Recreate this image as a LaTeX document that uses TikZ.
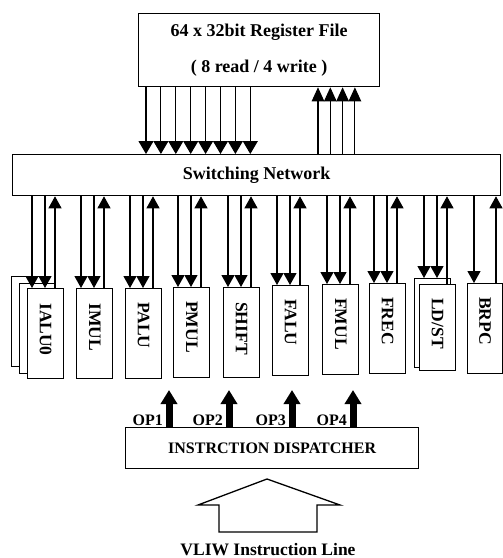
\documentclass[tikz,border=0pt]{standalone}
\usepackage{fontspec}
\setmainfont{Liberation Serif}
\usetikzlibrary{arrows.meta}
\tikzset{
  box/.style={draw,line width=1.3pt,fill=white,inner sep=0pt,align=center,font=\fontsize{18}{20}\selectfont\bfseries},
  unit/.style={box,minimum width=36pt,minimum height=90pt,anchor=north west},
  ulbl/.style={rotate=-90,anchor=west,inner sep=0pt,font=\fontsize{17.5}{17.5}\selectfont\bfseries},
  ar/.style={-{Triangle[length=12pt,width=13pt]},line width=1.1pt},
  rd/.style={-{Triangle[length=13pt,width=15pt]},line width=1.1pt},
  opar/.style={-{Triangle[length=14pt,width=16pt]},line width=7pt},
  oplbl/.style={anchor=south east,inner sep=0pt,font=\fontsize{16}{16}\selectfont\bfseries},
}

\begin{document}
\begin{tikzpicture}[x=1pt,y=-1pt]
  \fill[white] (0,0) rectangle (503,558);
  \useasboundingbox (0,0) rectangle (503,558);

  % register file and switching network
  \node[box, minimum width=241pt, minimum height=73pt, anchor=north west,
        font=\fontsize{18}{36}\selectfont\bfseries] (rf) at (138,13)
    {64 x 32bit Register File\\( 8 read / 4 write )};
  \node[box, minimum width=488pt, minimum height=41pt, anchor=north west] (sw) at (12,154)
    {Switching Network};

  \foreach \i in {0,...,7} {
    \path ([xshift={8pt+14.9pt*\i}]rf.south west) coordinate (r);
    \draw[rd] (r) -- (r |- sw.north);
  }
  \foreach \i in {0,...,3} {
    \path ([xshift={180pt+12.3pt*\i}]rf.south west) coordinate (w);
    \draw[ar, -{Triangle[length=14pt,width=12.5pt]}] (w |- sw.north) -- (w);
  }

  % functional units
  \node[unit] (ialuc) at (11,276) {};
  \node[unit] (ialub) at (19,283) {};
  \node[unit] (ialu) at (27,288) {};
  \node[unit] (imul) at (76,288) {};
  \node[unit] (palu) at (125,288) {};
  \node[unit] (pmul) at (173,287) {};
  \node[unit] (shift) at (223,287) {};
  \node[unit] (falu) at (272,285) {};
  \node[unit] (fmul) at (322,284) {};
  \node[unit] (frec) at (369,283) {};
  \node[unit, minimum height=89pt] (ldstb) at (414,278) {};
  \node[unit, minimum height=86pt] (ldst) at (419,284) {};
  \node[unit, minimum width=35pt] (brpc) at (467,283) {};

  \node[ulbl] at ([yshift=-15pt]ialu.north) {IALU0};
  \node[ulbl] at ([yshift=-15pt]imul.north) {IMUL};
  \node[ulbl] at ([yshift=-14pt]palu.north) {PALU};
  \node[ulbl] at ([yshift=-14pt]pmul.north) {PMUL};
  \node[ulbl] at ([yshift=-15pt]shift.north) {SHIFT};
  \node[ulbl] at ([yshift=-14pt]falu.north) {FALU};
  \node[ulbl] at ([yshift=-14pt]fmul.north) {FMUL};
  \node[ulbl] at ([yshift=-14pt]frec.north) {FREC};
  \node[ulbl] at ([yshift=-14pt]ldst.north) {LD/ST};
  \node[ulbl] at ([yshift=-14pt]brpc.north) {BRPC};

  \foreach \u/\t in {ialu/ialu,imul/imul,palu/palu,pmul/pmul,shift/shift,falu/falu,fmul/fmul,frec/frec,ldst/ldstb} {
    \path ([xshift=5pt]\u.north west) coordinate (d1)
          ([xshift=18pt]\u.north west) coordinate (d2)
          ([xshift=28pt]\u.north west) coordinate (u1);
    \draw[ar] (d1 |- sw.south) -- (d1 |- \t.north);
    \draw[ar] (d2 |- sw.south) -- (d2 |- \t.north);
    \draw[ar] (u1) -- (u1 |- sw.south);
  }
  \path ([xshift=7pt]brpc.north west) coordinate (d1)
        ([xshift=29pt]brpc.north west) coordinate (u1);
  \draw[ar] (d1 |- sw.south) -- (d1);
  \draw[ar] (u1) -- (u1 |- sw.south);

  % dispatcher
  \node[box, minimum width=293pt, minimum height=41pt, anchor=north west,
        font=\fontsize{16}{18}\selectfont\bfseries] (disp) at (125,427) {INSTRCTION DISPATCHER};
  \foreach \o/\n in {44/1,104/2,167/3,228/4} {
    \draw[opar] ([xshift=\o pt]disp.north west) -- ++(0,-37);
    \node[oplbl] at ([xshift={\o pt-6pt},yshift=1pt]disp.north west) {OP\n};
  }

  % instruction line
  \draw[line width=1.3pt, line join=miter] (267,479) -- (340,505) -- (317,505) -- (317,532)
    -- (219,532) -- (219,505) -- (198,505) -- cycle;
  \node[anchor=base, inner sep=0pt, font=\fontsize{17.5}{18}\selectfont\bfseries] (vliw) at (268,555)
    {VLIW Instruction Line};
\end{tikzpicture}
\end{document}
